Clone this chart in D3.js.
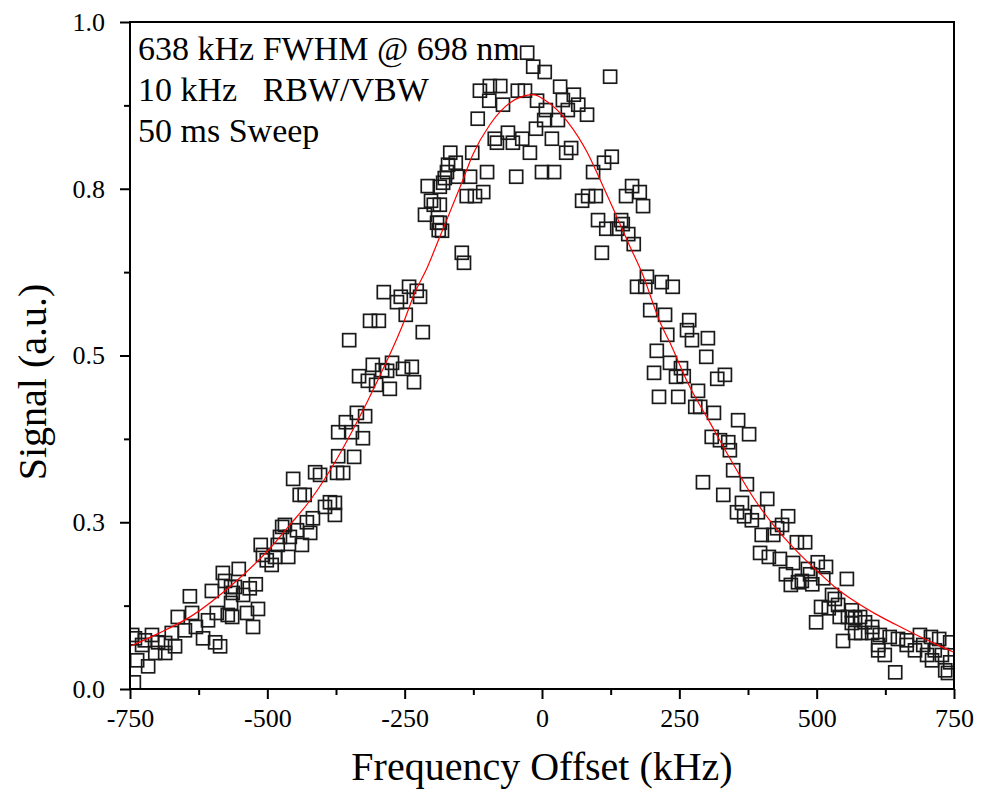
<!DOCTYPE html>
<html>
<head>
<meta charset="utf-8">
<script src="https://cdn.jsdelivr.net/npm/d3@7"></script>
<style>
	body { margin: 0; background: #fff; }
	svg { display: block; font-family: "Liberation Serif", "Times New Roman", serif; }
</style>
</head>
<body>
<div id="chart"></div>
<script>
// measured points, [offset kHz, signal a.u.]
const measured = [
	[-581,0.174],[-577,0.162],[-566,0.153],[-566,0.129],[-641,0.139],[-601,0.147],[-572,0.111],[-592,0.114],
	[-608,0.103],[-637,0.114],[-663,0.108],[-630,0.093],[-650,0.088],[-674,0.084],[-617,0.076],[-595,0.070],
	[-586,0.064],[-668,0.064],[-686,0.069],[-710,0.081],[-699,0.070],[-723,0.073],[-741,0.076],[-746,0.081],
	[-728,0.066],[-704,0.054],[-686,0.054],[-737,0.043],[-717,0.034],[-743,0.010],
	[-453,0.315],[-413,0.325],[-404,0.321],[-441,0.291],[-432,0.291],[-386,0.280],[-395,0.273],[-377,0.261],
	[-417,0.256],[-428,0.250],[-468,0.246],[-473,0.243],[-446,0.238],[-422,0.234],[-477,0.228],[-459,0.228],
	[-437,0.216],[-481,0.216],[-512,0.216],[-462,0.198],[-486,0.198],[-508,0.201],[-501,0.193],[-492,0.186],
	[-552,0.180],[-521,0.157],[-532,0.151],[-559,0.153],[-563,0.144],[-544,0.141],[-517,0.120],[-537,0.114],
	[-564,0.108],[-526,0.093],
	[-288,0.595],[-242,0.603],[-228,0.597],[-257,0.588],[-264,0.580],[-222,0.588],[-248,0.561],[-313,0.552],
	[-297,0.552],[-217,0.535],[-351,0.523],[-308,0.486],[-273,0.489],[-291,0.478],[-282,0.477],[-253,0.480],
	[-237,0.483],[-333,0.469],[-317,0.462],[-302,0.456],[-233,0.460],[-277,0.450],[-337,0.414],[-322,0.409],
	[-357,0.400],[-346,0.385],[-371,0.385],[-326,0.376],[-371,0.349],[-342,0.348],[-362,0.324],[-373,0.324],
	[-377,0.279],
	[-208,0.754],[-186,0.753],[-202,0.732],[-197,0.726],[-213,0.711],[-191,0.699],[-188,0.688],[-177,0.766],
	[-171,0.786],
	[-27,0.954],[-16,0.933],[5,0.925],[-113,0.897],[-95,0.904],[-76,0.904],[-96,0.882],[-71,0.876],
	[-44,0.897],[-31,0.897],[-9,0.882],[7,0.868],[4,0.853],[-117,0.855],[-11,0.840],[-62,0.834],
	[-86,0.825],[-82,0.819],[-53,0.819],[-36,0.825],[-22,0.804],[-167,0.804],[-157,0.789],[-127,0.804],
	[-173,0.775],[-153,0.768],[-131,0.768],[-100,0.775],[-47,0.768],[0,0.775],[-180,0.759],[-107,0.745],
	[-137,0.739],[-122,0.739],[-186,0.726],[-186,0.699],[-182,0.687],[-146,0.654],[-142,0.639],
	[124,0.918],[33,0.903],[58,0.891],[38,0.883],[66,0.876],[82,0.861],[47,0.868],[29,0.853],
	[18,0.825],[53,0.811],[44,0.804],[127,0.798],[113,0.789],[93,0.775],[22,0.775],[164,0.754],
	[178,0.745],[153,0.739],[184,0.724],[98,0.739],[84,0.739],[73,0.732],[102,0.703],[144,0.703],
	[147,0.697],[117,0.690],[137,0.690],[157,0.682],[167,0.667],[109,0.654],[191,0.618],[173,0.603],
	[188,0.603],
	[218,0.610],[238,0.603],[197,0.568],[224,0.561],[268,0.553],[264,0.538],[273,0.523],[302,0.526],
	[228,0.531],[209,0.507],[299,0.498],[233,0.489],[253,0.481],[204,0.474],[244,0.468],[258,0.469],
	[319,0.465],[333,0.471],[284,0.447],[213,0.438],[248,0.438],[279,0.423],[288,0.423],[313,0.414],
	[357,0.403],[377,0.382],[309,0.378],[324,0.373],[339,0.370],[342,0.358],[348,0.328],[373,0.307],
	[293,0.310],[330,0.291],[364,0.279],[355,0.265],[368,0.259],[382,0.253],
	[410,0.285],[393,0.265],[448,0.259],[437,0.246],[428,0.241],[400,0.231],[421,0.231],[464,0.220],
	[479,0.220],[397,0.204],[413,0.198],[433,0.195],[457,0.189],[502,0.190],[517,0.183],[484,0.180],
	[444,0.172],[488,0.172],[555,0.165],[512,0.166],[473,0.162],[466,0.160],[453,0.156],[492,0.157],
	[528,0.141],[533,0.135],[539,0.126],[508,0.123],[522,0.121],[564,0.118],[542,0.108],[557,0.108],
	[570,0.106],[564,0.099],[499,0.100],[570,0.084],[548,0.072],
	[579,0.108],[588,0.100],[601,0.093],[581,0.084],[601,0.084],[615,0.081],[633,0.078],[648,0.075],
	[664,0.073],[688,0.081],[708,0.078],[723,0.075],[743,0.070],[612,0.066],[664,0.066],[679,0.058],
	[694,0.066],[715,0.058],[624,0.051],[612,0.058],[701,0.051],[710,0.043],[728,0.051],[743,0.040],
	[734,0.028],[739,0.024],[643,0.025]
]

// fitted curve
const fitKHz = [-750,-699,-637,-559,-495,-459,-422,-377,-337,-299,-255,-231,-211,-186,-146,-126,-95,-58,-16,
	5,47,82,106,133,157,182,215,233,269,306,342,388,424,461,497,533,570,606,643,679,715,750]
const fitSignal = [0.064,0.083,0.110,0.160,0.211,0.246,0.283,0.340,0.400,0.463,0.543,0.595,0.628,0.678,0.759,0.801,0.846,0.879,0.891,
	0.883,0.850,0.805,0.763,0.714,0.669,0.624,0.550,0.519,0.453,0.399,0.346,0.283,0.243,0.209,0.180,0.153,0.131,0.113,0.097,0.082,0.068,0.055]

const xTicks = [-750, -500, -250, 0, 250, 500, 750]
const xMinorTicks = [-625, -375, -125, 125, 375, 625]
const yTicks = [0, 0.25, 0.5, 0.75, 1.0]
const yTickLabels = ['0.0', '0.3', '0.5', '0.8', '1.0']
const yMinorTicks = [0.125, 0.375, 0.625, 0.875]

const notes = ['638 kHz FWHM @ 698 nm', '10 kHz   RBW/VBW', '50 ms Sweep']

const width = 984, height = 793
const margin = { top: 22, right: 30, bottom: 104, left: 130 }

let svg = d3.select('#chart')
	.append('svg')
	.attr('width', width)
	.attr('height', height)

let x = d3.scaleLinear()
	.domain([-750, 750])
	.range([margin.left, width - margin.right])

let y = d3.scaleLinear()
	.domain([0, 1])
	.range([height - margin.bottom, margin.top])

// clip so squares at the edges get cut by the frame
svg.append('clipPath').attr('id', 'plot-clip')
	.append('rect')
	.attr('x', margin.left).attr('y', margin.top)
	.attr('width', x(750) - x(-750)).attr('height', y(0) - y(1))

let plot = svg.append('g').attr('clip-path', 'url(#plot-clip)')

let sq = 13
plot.selectAll('rect.pt')
	.data(measured)
	.enter()
		.append('rect')
		.attr('class', 'pt')
		.attr('x', d => x(d[0]) - sq / 2)
		.attr('y', d => y(d[1]) - sq / 2)
		.attr('width', sq)
		.attr('height', sq)
		.attr('fill', 'none')
		.attr('stroke', '#1a1a1a')
		.attr('stroke-width', 1.7)

let fitLine = d3.line()
	.x((d, i) => x(fitKHz[i]))
	.y(d => y(d))
	.curve(d3.curveMonotoneX)

plot.append('path')
	.attr('d', fitLine(fitSignal))
	.attr('fill', 'none')
	.attr('stroke', '#ff0000')
	.attr('stroke-width', 1.2)

// axes
let bottom = height - margin.bottom

svg.append('g')
	.attr('transform', `translate(0,${bottom})`)
	.call(d3.axisBottom(x).tickValues(xTicks).tickSize(10).tickPadding(10).tickFormat(d => String(d)))
svg.append('g')
	.attr('transform', `translate(0,${bottom})`)
	.call(d3.axisBottom(x).tickValues(xMinorTicks).tickSize(6).tickFormat(''))

svg.append('g')
	.attr('transform', `translate(${margin.left},0)`)
	.call(d3.axisLeft(y).tickValues(yTicks).tickSize(10).tickPadding(15)
		.tickFormat((d, i) => yTickLabels[i]))
svg.append('g')
	.attr('transform', `translate(${margin.left},0)`)
	.call(d3.axisLeft(y).tickValues(yMinorTicks).tickSize(6).tickFormat(''))

svg.selectAll('.domain').remove()
svg.selectAll('.tick line').attr('stroke', '#000').attr('stroke-width', 2)
svg.selectAll('.tick text')
	.attr('fill', '#000')
	.style('font-size', '26px')
	.style('font-family', '"Liberation Serif", "Times New Roman", serif')

// frame
svg.append('rect')
	.attr('x', margin.left)
	.attr('y', margin.top)
	.attr('width', x(750) - x(-750))
	.attr('height', y(0) - y(1))
	.attr('fill', 'none')
	.attr('stroke', '#000')
	.attr('stroke-width', 2)

// titles
svg.append('text')
	.attr('x', (x(-750) + x(750)) / 2)
	.attr('y', 780)
	.attr('text-anchor', 'middle')
	.style('font-size', '40px')
	.text('Frequency Offset (kHz)')

svg.append('text')
	.attr('transform', 'translate(46,382) rotate(-90)')
	.attr('text-anchor', 'middle')
	.style('font-size', '40px')
	.text('Signal (a.u.)')

svg.selectAll('text.note')
	.data(notes)
	.enter()
		.append('text')
		.attr('class', 'note')
		.attr('x', margin.left + 8)
		.attr('y', (d, i) => 60 + i * 41)
		.style('font-size', '34px')
		.style('white-space', 'pre')
		.text(d => d)
</script>
</body>
</html>
